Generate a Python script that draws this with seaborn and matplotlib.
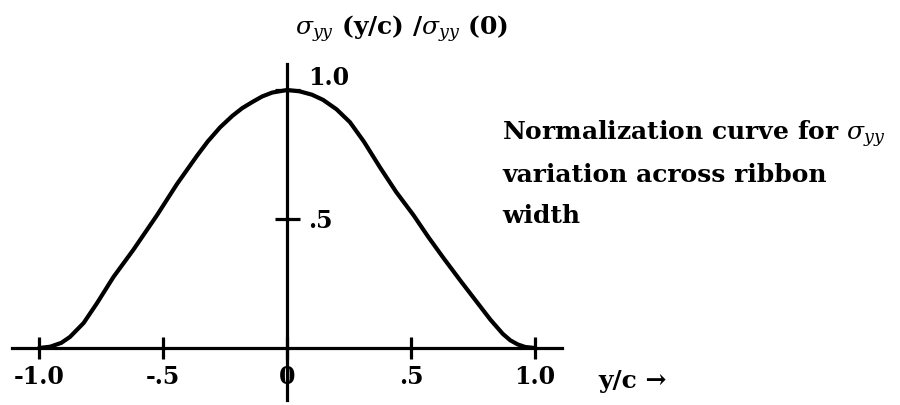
import matplotlib
matplotlib.use("Agg")
import matplotlib.pyplot as plt
import seaborn as sns
import numpy as np
import pandas as pd

# ---- data ----
y_over_c = [-1.0, -0.955, -0.91, -0.875, -0.82, -0.766, -0.70, -0.62, -0.524,
            -0.444, -0.363, -0.32, -0.27, -0.22, -0.18, -0.137, -0.10, -0.06,
            0.0, 0.05, 0.10, 0.145, 0.20, 0.254, 0.31, 0.375, 0.44, 0.51, 0.57,
            0.63, 0.70, 0.76, 0.82, 0.87, 0.90, 0.93, 0.96, 1.0]
sigma_ratio = [0.0, 0.005, 0.02, 0.043, 0.097, 0.174, 0.275, 0.38, 0.515,
               0.635, 0.745, 0.80, 0.855, 0.90, 0.93, 0.955, 0.975, 0.99,
               1.0, 0.995, 0.982, 0.962, 0.925, 0.875, 0.80, 0.70, 0.605,
               0.515, 0.43, 0.35, 0.26, 0.185, 0.11, 0.055, 0.03, 0.014,
               0.004, 0.0]
x_ticks = [-1.0, -0.5, 0.0, 0.5, 1.0]
x_tick_labels = ["-1.0", "-.5", "0", ".5", "1.0"]
y_ticks = [0.5, 1.0]
y_tick_labels = [".5", "1.0"]
title_text = r"$\sigma_{yy}$ (y/c) /$\sigma_{yy}$ (0)"
note_lines = [r"Normalization curve for $\sigma_{yy}$",
              "variation across ribbon",
              "width"]
x_axis_label = "y/c \u2192"

df = pd.DataFrame({"y/c": y_over_c, "ratio": sigma_ratio})

sns.set_style("white")
plt.rcParams["font.family"] = ["DejaVu Serif"]
plt.rcParams["mathtext.fontset"] = "dejavuserif"
plt.rcParams["text.color"] = "black"

W, H = 900, 405
fig = plt.figure(figsize=(W / 100, H / 100), dpi=100)
ax = fig.add_axes([0, 0, 1, 1])

# pixel mapping: x px = 287 + 248*x ; y px(top-down) = 348 - 258*y
x0, sx = 287.0, 248.0
y0, sy = 348.0, 258.0
ax.set_xlim((0 - x0) / sx, (W - x0) / sx)
ax.set_ylim((y0 - H) / sy, y0 / sy)

sns.lineplot(data=df, x="y/c", y="ratio", ax=ax, color="black",
             linewidth=3.0, sort=False, estimator=None)

ax.set_facecolor("white")
ax.spines["top"].set_visible(False)
ax.spines["left"].set_visible(False)
for s in ("right", "bottom"):
    ax.spines[s].set_color("black")
    ax.spines[s].set_linewidth(2.3)
ax.spines["right"].set_position(("data", 0))
ax.spines["right"].set_bounds(-0.20, 1.10)
ax.spines["bottom"].set_position(("data", 0))
ax.spines["bottom"].set_bounds(-1.11, 1.11)

ax.yaxis.tick_right()
ax.set_xticks(x_ticks)
ax.set_xticklabels(x_tick_labels, fontsize=17, fontweight="bold", color="black")
ax.set_yticks(y_ticks)
ax.set_yticklabels(y_tick_labels, fontsize=17, fontweight="bold", color="black")
ax.tick_params(axis="x", which="major", bottom=True, top=False,
               direction="inout", length=16, width=2.3, pad=4, color="black",
               labelcolor="black")
ax.tick_params(axis="y", which="major", right=True, left=False,
               direction="inout", length=18, width=2.3, pad=6, color="black",
               labelcolor="black")
ax.get_yticklabels()[-1].set_va("bottom")
ax.set_xlabel("")
ax.set_ylabel("")
ax.grid(False)

fig.text(295 / W, 1 - 35 / H, title_text, fontsize=18, fontweight="bold",
         ha="left", va="baseline", color="black")
for i, line in enumerate(note_lines):
    fig.text(502 / W, 1 - (140 + 41.5 * i) / H, line, fontsize=18,
             fontweight="bold", ha="left", va="baseline", color="black")
fig.text(598 / W, 1 - 388 / H, x_axis_label, fontsize=18, fontweight="bold",
         ha="left", va="baseline", color="black")

fig.savefig("out.png", dpi=100, facecolor="white")
